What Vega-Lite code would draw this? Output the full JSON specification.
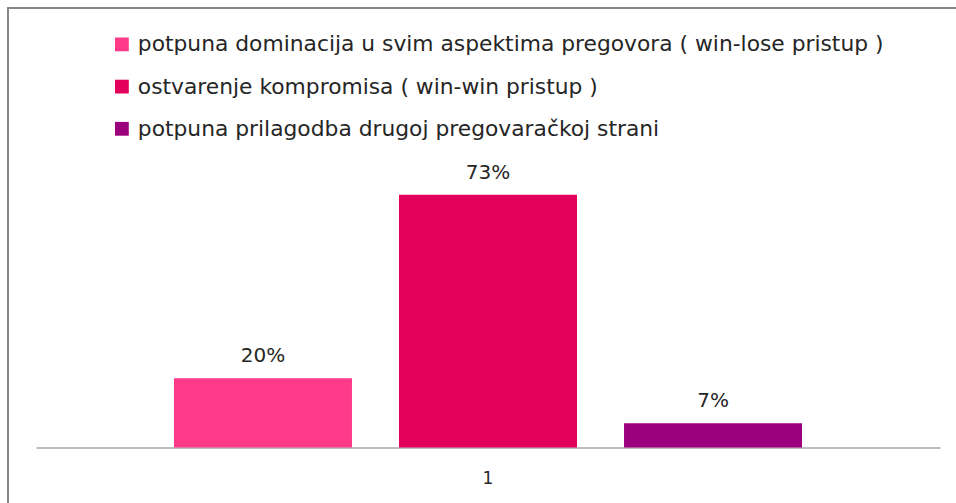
{
  "$schema": "https://vega.github.io/schema/vega-lite/v6.json",
  "width": 960,
  "height": 510,
  "autosize": {"type": "none"},
  "padding": {"left": 8, "top": 8, "right": 0, "bottom": 0},
  "config": {
    "view": {"stroke": "#878787", "strokeWidth": 2},
    "font": "DejaVu Sans"
  },
  "data": {
    "values": [
      {"kategorija": "1", "odgovor": "potpuna dominacija u svim aspektima pregovora ( win-lose pristup )", "udio": 20, "oznaka": "20%"},
      {"kategorija": "1", "odgovor": "ostvarenje kompromisa ( win-win pristup )", "udio": 73, "oznaka": "73%"},
      {"kategorija": "1", "odgovor": "potpuna prilagodba drugoj pregovaračkoj strani", "udio": 7, "oznaka": "7%"}
    ]
  },
  "encoding": {
    "x": {
      "field": "kategorija",
      "type": "nominal",
      "scale": {"range": [28, 932], "paddingInner": 0, "paddingOuter": 0.2197},
      "axis": {
        "title": null,
        "labelAngle": 0,
        "ticks": false,
        "domainColor": "#BDBDBD",
        "domainWidth": 2,
        "labelFontSize": 17,
        "labelColor": "#262626",
        "labelPadding": 23,
        "offset": -70.5
      }
    },
    "xOffset": {
      "field": "odgovor",
      "sort": [
        "potpuna dominacija u svim aspektima pregovora ( win-lose pristup )",
        "ostvarenje kompromisa ( win-win pristup )",
        "potpuna prilagodba drugoj pregovaračkoj strani"
      ],
      "scale": {"paddingInner": 0.209, "paddingOuter": 0}
    },
    "y": {
      "field": "udio",
      "type": "quantitative",
      "scale": {"domain": [0, 127], "range": [439.5, 0], "nice": false},
      "axis": null
    }
  },
  "layer": [
    {
      "mark": {"type": "bar"},
      "encoding": {
        "color": {
          "field": "odgovor",
          "type": "nominal",
          "sort": [
            "potpuna dominacija u svim aspektima pregovora ( win-lose pristup )",
            "ostvarenje kompromisa ( win-win pristup )",
            "potpuna prilagodba drugoj pregovaračkoj strani"
          ],
          "scale": {"range": ["#FF3A88", "#E3005A", "#9B007D"]},
          "legend": {
            "title": null,
            "orient": "none",
            "legendX": 103,
            "legendY": 25.5,
            "symbolType": "square",
            "symbolSize": 190,
            "symbolStrokeWidth": 0,
            "labelFontSize": 21.8,
            "labelColor": "#262626",
            "labelOffset": 5,
            "labelLimit": 0,
            "rowPadding": 19.2
          }
        }
      }
    },
    {
      "mark": {"type": "text", "dy": -16, "baseline": "alphabetic", "fontSize": 20, "color": "#262626"},
      "encoding": {"text": {"field": "oznaka"}}
    }
  ]
}
